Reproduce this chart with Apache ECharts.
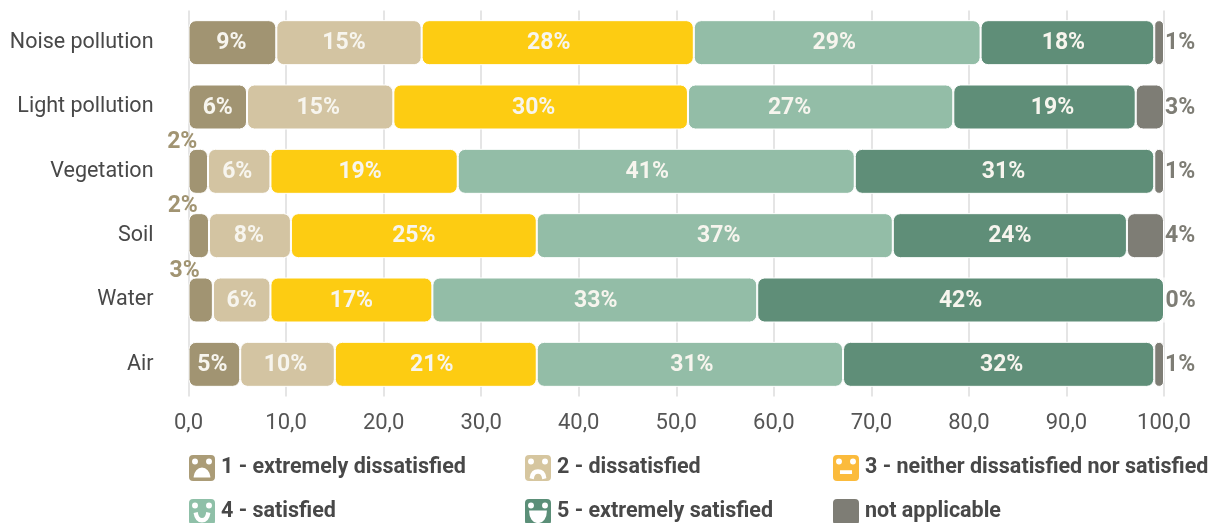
<!DOCTYPE html>
<html><head><meta charset="utf-8">
<style>html,body{margin:0;padding:0;background:#fff}#c{width:1217px;height:523px}</style>
<script src="https://cdn.jsdelivr.net/npm/echarts@6/dist/echarts.min.js"></script>
</head><body><div id="c"></div>
<script>
const categories = ['Noise pollution','Light pollution','Vegetation','Soil','Water','Air'];
const extremelyDissatisfied = [9, 6, 2, 2.1, 2.5, 5.3];
const dissatisfied = [14.9, 15, 6.4, 8.4, 5.9, 9.7];
const neutral = [27.9, 30.2, 19.2, 25.2, 16.6, 20.7];
const satisfied = [29.4, 27.2, 40.7, 36.5, 33.3, 31.4];
const extremelySatisfied = [17.8, 18.7, 30.7, 24, 41.7, 31.9];
const notApplicable = [1, 2.9, 1, 3.8, 0, 1];
const seriesNames = ['1 - extremely dissatisfied','2 - dissatisfied','3 - neither dissatisfied nor satisfied','4 - satisfied','5 - extremely satisfied','not applicable'];
const seriesValues = [extremelyDissatisfied, dissatisfied, neutral, satisfied, extremelySatisfied, notApplicable];
const barColors = ['#a19472','#d3c4a2','#fdcc12','#93bda7','#5f8e78','#7e7d75'];
const legendColors = ['#ab9c77','#d6c69f','#fbbb3c','#8fc0a8','#5b8f78','#7e7d75'];
// horizontal nudges of the in-bar labels, which are not centred in the reference
const labelNudges = [[-1,0,0,0,0,-2],[-5,-2,-2,-1,0,-2],[-9,-7,-4,0,0,-4],[-3,-31,-9,4,1,2],[-4,8,-1,0,0,3],[0,0,0,0,0,0]];

const sq = 'M18 0H82A18 18 0 0 1 100 18V82A18 18 0 0 1 82 100H18A18 18 0 0 1 0 82V18A18 18 0 0 1 18 0Z';
const eye = x => `M${x} 20A7 7 0 0 0 ${x} 34A7 7 0 0 0 ${x} 20Z`;
const eyes = eye(25) + eye(75);
const icons = [
  sq + eyes + 'M50 52C36 52 26 64 24 80H76C74 64 64 52 50 52Z',
  sq + eyes + 'M50 58C36 58 26 68 24 84L32 86C34 74 41 67 50 67C59 67 66 74 68 86L76 84C74 68 64 58 50 58Z',
  sq + eyes + 'M32 62V68H68V62Z',
  sq + eyes + 'M24 56C26 72 36 84 50 84C64 84 74 72 76 56L68 54C66 67 59 75 50 75C41 75 34 67 32 54Z',
  sq + eyes + 'M22 48C22 70 34 86 50 86C66 86 78 70 78 48Z',
  sq
];
const legendPos = [[187,453],[523,453],[831,453],[187,497],[523,497],[831,497]];

const labelFont = {fontFamily:'Roboto', fontWeight:'bold', fontSize:23};
const series = seriesNames.map((name, si) => ({
  name, type:'bar', stack:'t', barWidth:45,
  itemStyle:{color:barColors[si], borderRadius:7, borderColor:'#fff', borderWidth:1},
  data: seriesValues[si].map((v, ci) => {
    let label = {show:true, position:'inside', offset:[labelNudges[si][ci],1], color:'#f7f5ee', ...labelFont,
                 formatter:() => Math.round(v) + '%'};
    if (si === 5) label = {...label, position:'right', distance:1, offset:[0,1], color:barColors[5]};
    else if (si === 0 && v < 4) label = {...label, position:'top', distance:0, offset:[-16,5], color:barColors[0]};
    return {value:v, label};
  })
}));

const chart = echarts.init(document.getElementById('c'), null, {renderer:'canvas'});
chart.setOption({
  animation:false, backgroundColor:'#fff',
  grid:{left:188.5, right:53, top:10.5, height:386},
  xAxis:{type:'value', min:0, max:100, interval:10,
    axisLine:{show:false}, axisTick:{show:false},
    axisLabel:{formatter:v => v.toFixed(1).replace('.',','), color:'#555', fontFamily:'Roboto', fontSize:22, margin:16},
    splitLine:{show:true, lineStyle:{color:'#dcdcdc', width:1.5}}},
  yAxis:{type:'category', data:categories, inverse:true,
    axisLine:{show:false}, axisTick:{show:false},
    axisLabel:{color:'#484848', fontFamily:'Roboto', fontSize:21.5, margin:35}},
  legend: seriesNames.map((name,i) => ({
    data:[{name, icon:'path://'+icons[i], itemStyle:{color:legendColors[i]}}],
    left:legendPos[i][0], top:legendPos[i][1], itemWidth:28, itemHeight:28, itemGap:0,
    padding:0, selectedMode:false,
    textStyle:{color:'#484848', fontFamily:'Roboto', fontWeight:'bold', fontSize:21.5}
  })),
  series
});
</script></body></html>
